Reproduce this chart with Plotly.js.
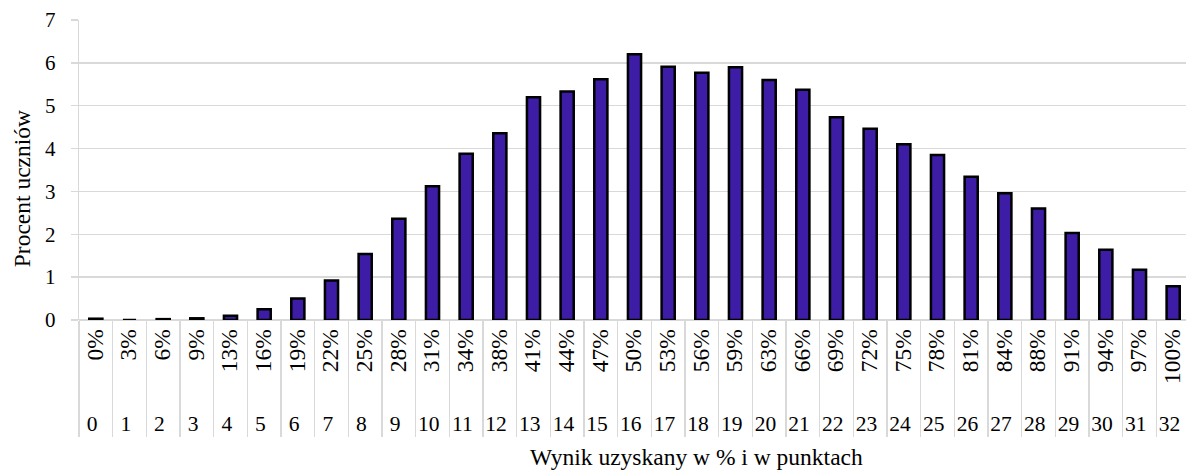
<!DOCTYPE html>
<html>
<head>
<meta charset="utf-8">
<script src="https://cdn.plot.ly/plotly-3.0.1.min.js"></script>
<style>
html,body{margin:0;padding:0;background:#fff;overflow:hidden;width:1186px;height:471px;}
#chart{width:1200px;height:471px;}
</style>
</head>
<body>
<div id="chart"></div>
<script>
const points = ["0","1","2","3","4","5","6","7","8","9","10","11","12","13","14","15","16","17","18","19","20","21","22","23","24","25","26","27","28","29","30","31","32"];
const percents = ["0%","3%","6%","9%","13%","16%","19%","22%","25%","28%","31%","34%","38%","41%","44%","47%","50%","53%","56%","59%","63%","66%","69%","72%","75%","78%","81%","84%","88%","91%","94%","97%","100%"];
const values = [0.03,0,0.02,0.04,0.1,0.25,0.5,0.92,1.54,2.36,3.12,3.88,4.36,5.2,5.33,5.62,6.2,5.91,5.77,5.9,5.6,5.37,4.73,4.46,4.1,3.85,3.34,2.96,2.6,2.03,1.64,1.17,0.79];
const xTitle = 'Wynik uzyskany w % i w punktach';
const yTitle = 'Procent uczniów';

const font = "'Liberation Serif', 'Times New Roman', serif";
// larger rotated percent labels; invisible leading padding so the second label row sits lower
const percentLabels = percents.map(p => '<span style="font-size:23.5px">\u00a0\u2009' + p + '</span>');

Plotly.newPlot('chart', [{
  type: 'bar',
  x: [points, percentLabels],
  y: values,
  marker: {color: '#3d1ca6', line: {color: '#000000', width: 2.5}},
  hoverinfo: 'skip'
}], {
  width: 1200,
  height: 471,
  margin: {l: 79, r: 10, t: 20, b: 151},
  paper_bgcolor: '#ffffff',
  plot_bgcolor: '#ffffff',
  bargap: 0.61,
  showlegend: false,
  font: {family: font, size: 21, color: '#000000'},
  xaxis: {
    type: 'multicategory',
    tickangle: -90,
    tickfont: {family: font, size: 21.5, color: '#000000'},
    ticklabelstandoff: 4,
    showdividers: true,
    dividercolor: '#d9d9d9',
    dividerwidth: 1.3,
    showgrid: false,
    showline: false,
    zeroline: false,
    ticks: ''
  },
  yaxis: {
    range: [0, 7],
    dtick: 1,
    tick0: 0,
    showgrid: true,
    gridcolor: '#d9d9d9',
    gridwidth: 1.3,
    zeroline: true,
    zerolinecolor: '#d9d9d9',
    zerolinewidth: 2,
    showline: true,
    linecolor: '#d9d9d9',
    linewidth: 1.3,
    ticks: 'outside',
    ticklen: 7,
    tickcolor: '#d9d9d9',
    tickwidth: 1.3,
    ticklabelstandoff: 11,
    tickfont: {family: font, size: 21, color: '#000000'}
  },
  annotations: [
    {text: xTitle, xref: 'paper', yref: 'paper', x: 0.556, y: -0.457, xanchor: 'center', yanchor: 'middle', showarrow: false, font: {family: font, size: 23.5, color: '#000000'}},
    {text: yTitle, xref: 'paper', yref: 'paper', x: -0.051, y: 0.437, xanchor: 'center', yanchor: 'middle', textangle: -90, showarrow: false, font: {family: font, size: 23.5, color: '#000000'}}
  ]
}, {displayModeBar: false, staticPlot: true});
</script>
</body>
</html>
